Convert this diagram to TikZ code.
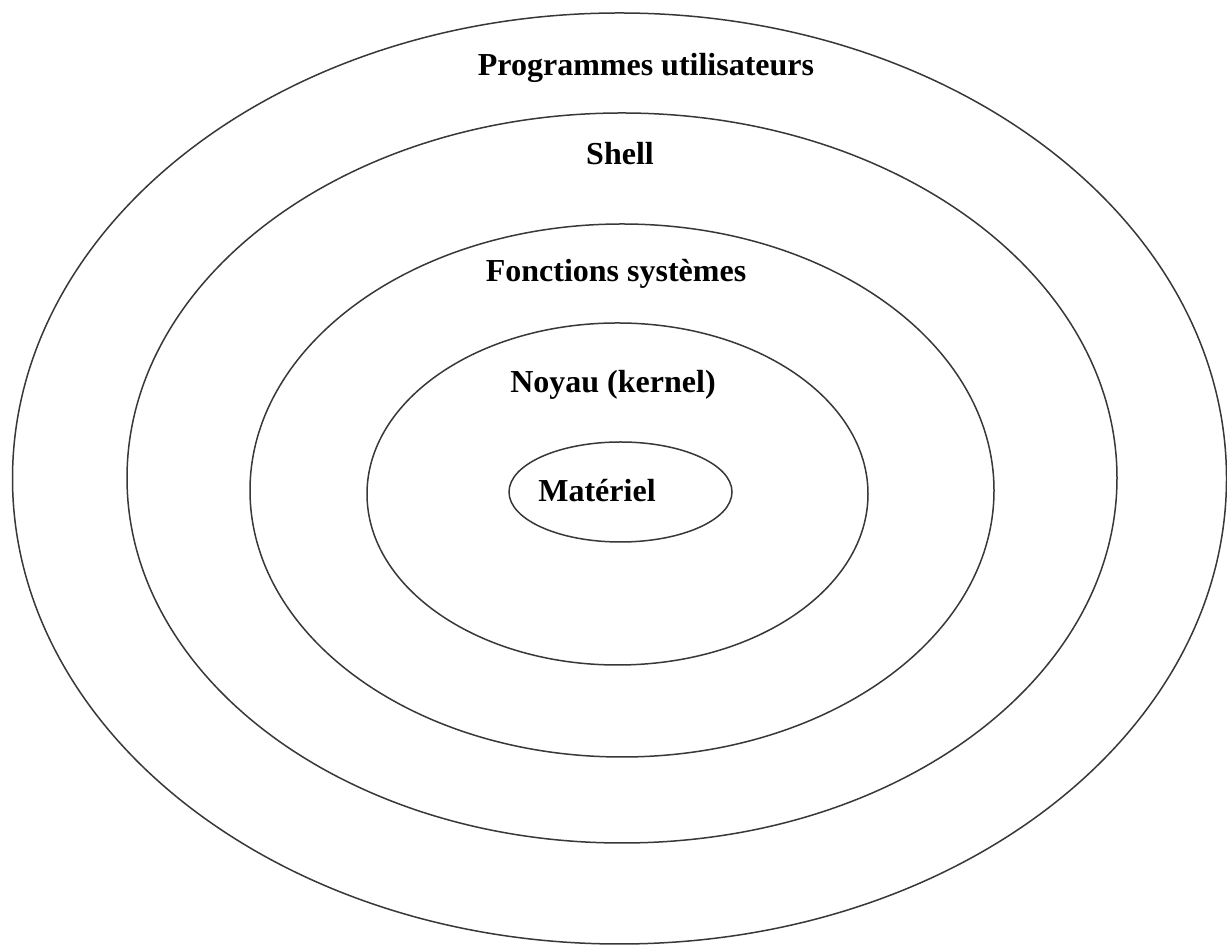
\documentclass[tikz,border=0pt]{standalone}
\usepackage{fontspec}
\setmainfont{Liberation Serif}
\tikzset{
  ring/.style={draw=black!78, line width=1.5pt},
  lbl/.style={anchor=base, inner sep=0pt, font=\fontsize{32}{36}\selectfont\bfseries}
}
\begin{document}
\begin{tikzpicture}[x=1pt,y=1pt]
\useasboundingbox (0,0) rectangle (1227,947);
\fill[white] (0,0) rectangle (1227,947);
\draw[ring] (619.5,468.5) ellipse [x radius=607, y radius=465.5];
\draw[ring] (622,469) ellipse [x radius=495, y radius=365];
\draw[ring] (622,456.5) ellipse [x radius=372, y radius=266.5];
\draw[ring] (617.5,453) ellipse [x radius=250.5, y radius=171];
\draw[ring] (620.5,455) ellipse [x radius=111.5, y radius=50];
\node[lbl] (prog) at (646,871) {Programmes utilisateurs};
\node[lbl] (shell) at (620,782) {Shell};
\node[lbl] (fonc) at (616,665) {Fonctions systèmes};
\node[lbl] (noyau) at (613,554) {Noyau (kernel)};
\node[lbl] (mat) at (597,445) {Matériel};
\end{tikzpicture}
\end{document}
